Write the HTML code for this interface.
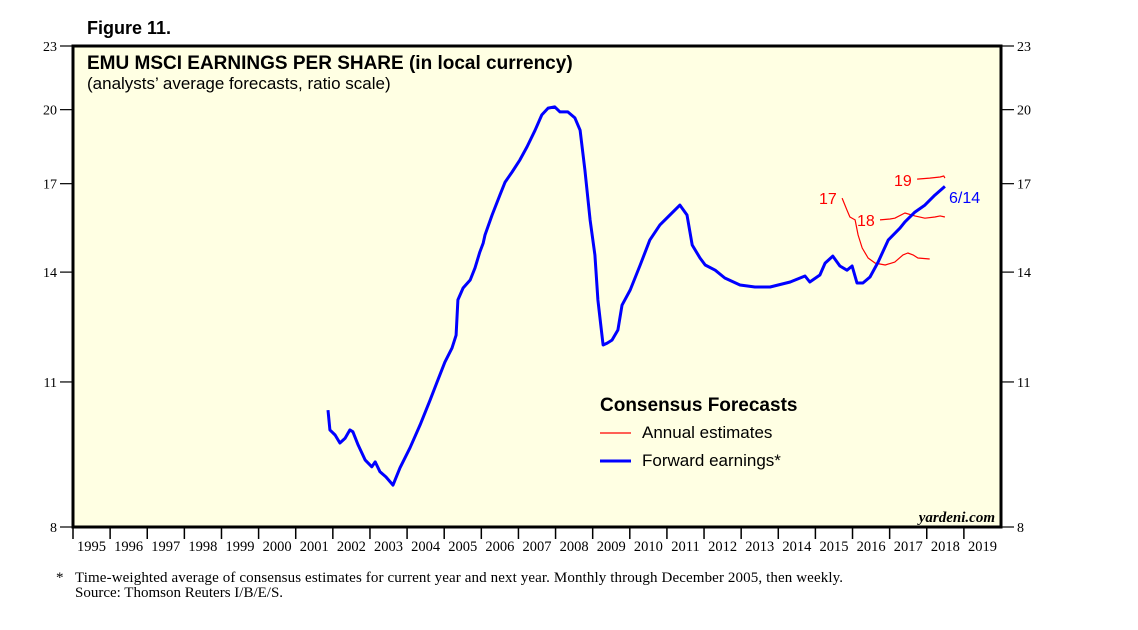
<!DOCTYPE html>
<html><head><meta charset="utf-8"><style>
body{margin:0;background:#fff;}
svg text{font-family:"Liberation Sans",sans-serif;}
</style></head><body>
<svg id="chart" width="1138" height="625" xmlns="http://www.w3.org/2000/svg">
<text x="87" y="34" font-size="18" font-weight="bold">Figure 11.</text>
<rect x="73" y="46" width="928" height="481" fill="#FFFFE3" stroke="#000" stroke-width="3"/>
<text x="87" y="69" font-size="19" font-weight="bold">EMU MSCI EARNINGS PER SHARE (in local currency)</text>
<text x="87" y="89" font-size="17">(analysts’ average forecasts, ratio scale)</text>
<g id="axes"></g>
<g id="series"></g>
<text x="600" y="411" font-size="19" font-weight="bold">Consensus Forecasts</text>
<line x1="600" y1="433" x2="631" y2="433" stroke="red" stroke-width="1.2"/>
<text x="642" y="438" font-size="17">Annual estimates</text>
<line x1="600" y1="461" x2="631" y2="461" stroke="#00f" stroke-width="3"/>
<text x="642" y="466" font-size="17">Forward earnings*</text>
<text x="995" y="522" font-size="15" font-weight="bold" font-style="italic" text-anchor="end" style="font-family:'Liberation Serif',serif">yardeni.com</text>
<text x="56" y="582" font-size="15" style="font-family:'Liberation Serif',serif">*</text>
<text x="75" y="582" font-size="15" textLength="768" style="font-family:'Liberation Serif',serif">Time-weighted average of consensus estimates for current year and next year. Monthly through December 2005, then weekly.</text>
<text x="75" y="597" font-size="15" style="font-family:'Liberation Serif',serif">Source: Thomson Reuters I/B/E/S.</text>
</svg>
<script>
const fwdYears=[2001.87,2001.92,2002.06,2002.19,2002.33,2002.46,2002.54,2002.68,2002.87,2003.05,2003.14,2003.27,2003.43,2003.62,2003.81,2004.08,2004.35,2004.62,2004.83,2005.02,2005.21,2005.32,2005.37,2005.51,2005.70,2005.83,2005.96,2006.05,2006.10,2006.29,2006.50,2006.64,2006.83,2007.04,2007.23,2007.45,2007.63,2007.80,2007.98,2008.12,2008.33,2008.52,2008.66,2008.79,2008.93,2009.06,2009.14,2009.22,2009.28,2009.39,2009.52,2009.68,2009.79,2010.01,2010.28,2010.54,2010.81,2011.08,2011.35,2011.54,2011.68,2011.89,2012.03,2012.30,2012.56,2012.97,2013.37,2013.78,2014.32,2014.72,2014.85,2015.12,2015.26,2015.47,2015.66,2015.85,2015.99,2016.12,2016.28,2016.47,2016.69,2016.96,2017.28,2017.41,2017.68,2017.95,2018.22,2018.49];
const fwdValues=[10.34,9.90,9.79,9.62,9.72,9.90,9.86,9.58,9.27,9.13,9.23,9.03,8.93,8.77,9.11,9.52,10.01,10.57,11.05,11.49,11.85,12.19,13.17,13.52,13.76,14.13,14.63,14.92,15.19,15.87,16.58,17.06,17.44,17.91,18.43,19.12,19.77,20.07,20.12,19.90,19.90,19.64,19.12,17.52,15.70,14.54,13.17,12.46,11.93,11.98,12.06,12.33,13.02,13.46,14.22,15.02,15.53,15.87,16.22,15.87,14.86,14.44,14.22,14.06,13.82,13.61,13.55,13.55,13.70,13.88,13.70,13.91,14.28,14.50,14.19,14.06,14.19,13.67,13.67,13.85,14.31,15.02,15.42,15.63,15.97,16.22,16.58,16.90];
const e17Years=[2015.72,2015.85,2015.93,2016.07,2016.15,2016.26,2016.42,2016.61,2016.88,2017.14,2017.36,2017.49,2017.63,2017.76,2018.08];
const e17Values=[16.47,16.04,15.80,15.70,15.19,14.76,14.44,14.28,14.22,14.31,14.54,14.60,14.54,14.44,14.41];
const e18Years=[2016.74,2017.01,2017.14,2017.41,2017.68,2017.95,2018.22,2018.36,2018.49];
const e18Values=[15.70,15.73,15.76,15.94,15.84,15.76,15.80,15.84,15.80];
const e19Years=[2017.74,2018.08,2018.36,2018.46,2018.49];
const e19Values=[17.17,17.21,17.25,17.29,17.21];
const yearLabels=[1995,1996,1997,1998,1999,2000,2001,2002,2003,2004,2005,2006,2007,2008,2009,2010,2011,2012,2013,2014,2015,2016,2017,2018,2019];
const yTicks=[8,11,14,17,20,23];
const NS="http://www.w3.org/2000/svg";
const X0=73,X1=1001,Y0=46,Y1=527,Ymin=8,Ymax=23,T0=1995,T1=2020;
function xs(t){return X0+(t-T0)/(T1-T0)*(X1-X0);}
function ys(v){return Y0+(Math.log(Ymax)-Math.log(v))/(Math.log(Ymax)-Math.log(Ymin))*(Y1-Y0);}
function mk(tag,a,parent){const e=document.createElementNS(NS,tag);for(const k in a)e.setAttribute(k,a[k]);parent.appendChild(e);return e;}
const ax=document.getElementById('axes');
yTicks.forEach(v=>{const y=ys(v);
 let l=mk('line',{x1:60,x2:73,y1:y,y2:y,stroke:'#000','stroke-width':1.2},ax);
 
 
 let r=mk('line',{x1:1001,x2:1014,y1:y,y2:y,stroke:'#000','stroke-width':1.2},ax);
 
 
 let t=mk('text',{x:57,y:y+5,'font-size':14,'text-anchor':'end',style:"font-family:'Liberation Serif',serif"},ax);t.textContent=v;
 
 
 let t2=mk('text',{x:1017,y:y+5,'font-size':14,style:"font-family:'Liberation Serif',serif"},ax);t2.textContent=v;
 
 
});
yearLabels.forEach(yr=>{const x=xs(yr);
 let l=mk('line',{x1:x,x2:x,y1:527,y2:539,stroke:'#000','stroke-width':1.5},ax);
 
 
 let t=mk('text',{x:xs(yr+0.5),y:551,'font-size':14.5,'text-anchor':'middle',style:"font-family:'Liberation Serif',serif"},ax);t.textContent=yr;
 
 
});
const sg=document.getElementById('series');
function line(xsA,vsA,color,w,name){const d=xsA.map((t,i)=>(i?'L':'M')+xs(t).toFixed(1)+','+ys(vsA[i]).toFixed(1)).join('');
 const p=mk('path',{d:d,fill:'none',stroke:color,'stroke-width':w,'stroke-linejoin':'round'},sg);
 
 }
line(e17Years,e17Values,'red',1.2,'annual-estimate-2017');
line(e18Years,e18Values,'red',1.2,'annual-estimate-2018');
line(e19Years,e19Values,'red',1.2,'annual-estimate-2019');
line(fwdYears,fwdValues,'#00f',3,'forward-earnings-line');
function lab(x,y,txt,c,name){const t=mk('text',{x:x,y:y,'font-size':16,fill:c},sg);t.textContent=txt;
 
 }
lab(819,204,'17','red','label-2017');
lab(857,226,'18','red','label-2018');
lab(894,186,'19','red','label-2019');
lab(949,203,'6/14','#00f','label-latest-date');
</script>
</body></html>
